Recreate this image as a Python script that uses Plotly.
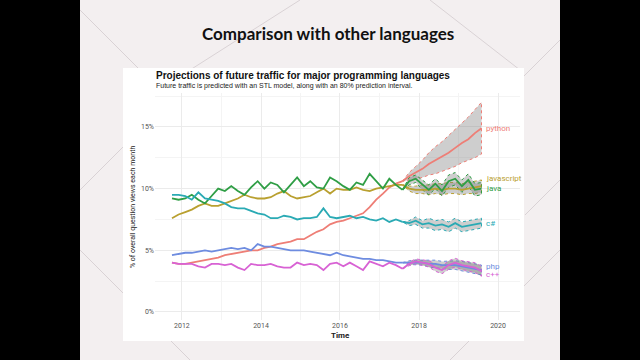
import plotly.graph_objects as go
import pandas as pd

# ---------------- data ----------------
obs_dates = pd.date_range("2011-10-01", periods=36, freq="2MS").strftime("%Y-%m-%d").tolist()
fc_dates = pd.date_range("2017-10-01", periods=12, freq="2MS").strftime("%Y-%m-%d").tolist()

languages = ["python", "javascript", "java", "c#", "php", "c++"]

python_obs = [4.0, 3.9, 3.9, 4.0, 4.1, 4.2, 4.3, 4.4, 4.6, 4.7, 4.8, 4.9,
              5.0, 5.0, 5.2, 5.3, 5.5, 5.6, 5.7, 5.9, 5.9, 6.2, 6.5, 6.7,
              7.1, 7.3, 7.4, 7.6, 7.8, 8.0, 8.5, 9.1, 9.6, 10.1, 10.4, 10.6]
javascript_obs = [7.6, 7.9, 8.1, 8.3, 8.6, 8.8, 8.6, 8.6, 8.8, 9.0, 9.2, 9.5,
                  9.3, 9.2, 9.2, 9.3, 9.6, 9.8, 9.4, 9.2, 9.3, 9.4, 9.7, 10.0,
                  9.6, 10.0, 9.9, 9.9, 10.1, 9.9, 9.8, 10.0, 10.1, 10.2, 10.3, 10.3]
java_obs = [9.2, 9.1, 9.2, 9.5, 9.1, 8.8, 9.4, 10.0, 9.8, 10.2, 9.8, 9.5,
            10.1, 10.6, 10.0, 10.5, 10.3, 9.7, 10.3, 10.9, 10.2, 10.6, 10.1, 10.0,
            10.9, 10.6, 10.2, 9.9, 10.5, 10.3, 11.2, 10.6, 10.0, 10.8, 10.3, 9.9]
csharp_obs = [9.5, 9.5, 9.4, 9.1, 9.7, 9.2, 9.1, 9.0, 8.8, 8.5, 8.4, 8.4,
              8.2, 8.0, 7.9, 7.6, 7.6, 7.8, 7.7, 7.5, 7.6, 7.6, 7.7, 8.4,
              7.7, 7.6, 7.7, 7.8, 7.6, 7.7, 7.5, 7.4, 7.6, 7.3, 7.5, 7.3]
php_obs = [4.6, 4.7, 4.8, 4.8, 4.9, 5.0, 4.9, 5.0, 5.1, 5.2, 5.1, 5.2,
           5.0, 5.5, 5.3, 5.3, 5.2, 5.1, 5.0, 5.0, 5.0, 4.9, 4.8, 4.7,
           4.6, 4.8, 4.6, 4.5, 4.4, 4.3, 4.3, 4.2, 4.2, 4.1, 4.0, 4.0]
cpp_obs = [4.0, 3.9, 3.9, 3.9, 3.7, 3.6, 3.9, 3.9, 3.8, 3.9, 3.6, 3.4,
           3.9, 3.8, 3.8, 3.9, 3.7, 3.6, 3.6, 4.0, 3.8, 3.9, 3.8, 3.4,
           3.9, 4.0, 3.7, 4.0, 3.7, 3.4, 4.1, 3.9, 3.7, 4.0, 3.8, 3.5]

python_fc = [11.0, 11.3, 11.6, 12.0, 12.3, 12.6, 12.9, 13.3, 13.7, 14.0, 14.5, 14.9]
python_lo = [10.7, 10.8, 10.9, 11.1, 11.2, 11.4, 11.6, 11.8, 12.1, 12.3, 12.5, 12.8]
python_hi = [11.3, 11.8, 12.3, 12.9, 13.4, 13.8, 14.3, 14.8, 15.3, 15.8, 16.4, 17.0]

javascript_fc = [10.0, 9.9, 9.9, 9.9, 10.0, 9.9, 10.0, 10.0, 9.9, 10.0, 10.1, 10.2]
javascript_lo = [9.8, 9.6, 9.6, 9.5, 9.6, 9.5, 9.6, 9.6, 9.5, 9.6, 9.6, 9.7]
javascript_hi = [10.2, 10.2, 10.3, 10.3, 10.4, 10.4, 10.5, 10.5, 10.4, 10.5, 10.6, 10.7]

java_fc = [10.6, 10.8, 10.3, 9.9, 10.4, 9.8, 10.6, 10.8, 10.2, 10.7, 9.9, 10.0]
java_lo = [10.3, 10.5, 9.9, 9.5, 10.0, 9.4, 10.1, 10.3, 9.7, 10.2, 9.4, 9.5]
java_hi = [10.9, 11.1, 10.7, 10.3, 10.8, 10.3, 11.1, 11.3, 10.7, 11.2, 10.4, 10.5]

csharp_fc = [7.2, 7.4, 7.1, 7.2, 7.0, 7.1, 6.9, 7.2, 6.9, 7.0, 7.1, 7.2]
csharp_lo = [7.0, 7.1, 6.8, 6.8, 6.6, 6.7, 6.5, 6.8, 6.5, 6.6, 6.7, 6.8]
csharp_hi = [7.4, 7.7, 7.4, 7.6, 7.4, 7.5, 7.3, 7.6, 7.3, 7.4, 7.5, 7.6]

php_fc = [4.0, 4.0, 4.0, 3.9, 3.9, 3.8, 3.8, 3.8, 3.7, 3.6, 3.5, 3.4]
php_lo = [3.85, 3.8, 3.8, 3.65, 3.6, 3.5, 3.45, 3.45, 3.3, 3.2, 3.1, 3.0]
php_hi = [4.15, 4.2, 4.2, 4.15, 4.2, 4.1, 4.15, 4.15, 4.1, 4.0, 3.9, 3.8]

cpp_fc = [3.9, 4.1, 4.0, 3.9, 3.6, 3.4, 3.8, 4.0, 3.8, 3.7, 3.6, 3.3]
cpp_lo = [3.75, 3.9, 3.75, 3.65, 3.3, 3.1, 3.45, 3.65, 3.45, 3.3, 3.2, 2.9]
cpp_hi = [4.05, 4.3, 4.25, 4.15, 3.9, 3.7, 4.15, 4.35, 4.15, 4.1, 4.0, 3.7]

y_ticks = [0, 5, 10, 15]
y_tick_labels = ["0%", "5%", "10%", "15%"]
x_ticks = ["2012-01-01", "2014-01-01", "2016-01-01", "2018-01-01", "2020-01-01"]
x_tick_labels = ["2012", "2014", "2016", "2018", "2020"]

# ---------------- style ----------------
colors = {"python": "#EE7E76", "javascript": "#B9A030", "java": "#2F9E45",
          "c#": "#2AAAB4", "php": "#6E8CE0", "c++": "#D862D4"}
label_shift = {"python": 0, "javascript": 8, "java": 0, "c#": 0, "php": 4, "c++": -3}

series = {
    "python": (python_obs, python_fc, python_lo, python_hi),
    "javascript": (javascript_obs, javascript_fc, javascript_lo, javascript_hi),
    "java": (java_obs, java_fc, java_lo, java_hi),
    "c#": (csharp_obs, csharp_fc, csharp_lo, csharp_hi),
    "php": (php_obs, php_fc, php_lo, php_hi),
    "c++": (cpp_obs, cpp_fc, cpp_lo, cpp_hi),
}

W, H = 640, 360
fig = go.Figure()

fc_x = [obs_dates[-1]] + fc_dates

# bands (closed polygon: upper forward, lower backward, dotted outline)
for lang in languages:
    obs, fc, lo, hi = series[lang]
    c = colors[lang]
    band_x = fc_x + fc_x[::-1] + [fc_x[0]]
    band_y = ([obs[-1]] + hi) + ([obs[-1]] + lo)[::-1] + [obs[-1]]
    fig.add_trace(go.Scatter(x=band_x, y=band_y, mode="lines",
                             line=dict(color=c, width=1, dash="dot"),
                             fill="toself", fillcolor="rgba(120,120,120,0.36)",
                             showlegend=False, hoverinfo="skip"))

# lines
for lang in languages:
    obs, fc, lo, hi = series[lang]
    c = colors[lang]
    fig.add_trace(go.Scatter(x=obs_dates, y=obs, mode="lines",
                             line=dict(color=c, width=1.8), name=lang, showlegend=False))
    fig.add_trace(go.Scatter(x=fc_x, y=[obs[-1]] + fc, mode="lines",
                             line=dict(color=c, width=1.8), showlegend=False))
    fig.add_annotation(x=fc_dates[-1], y=fc[-1], text=lang, showarrow=False,
                       xanchor="left", yanchor="middle", xshift=3,
                       yshift=label_shift[lang],
                       font=dict(family="Roboto", size=8, color=c))

# slide background & chart card
shapes = [
    dict(type="rect", xref="paper", yref="paper", x0=80 / W, x1=560 / W, y0=0, y1=1,
         fillcolor="#F3EFF0", line=dict(width=0), layer="below"),
]
diag = [((80, 10), (200, 130)), ((80, 250), (190, 360)), ((300, 0), (190, 70)),
        ((430, 0), (520, 70)), ((560, 40), (470, 130)), ((560, 250), (450, 360)),
        ((80, 190), (140, 130)), ((560, 180), (525, 215))]
for (xa, ya), (xb, yb) in diag:
    shapes.append(dict(type="line", xref="paper", yref="paper",
                       x0=xa / W, y0=1 - ya / H, x1=xb / W, y1=1 - yb / H,
                       line=dict(color="#D9D2D5", width=1), layer="below"))
shapes.append(dict(type="rect", xref="paper", yref="paper",
                   x0=123 / W, x1=524 / W, y0=1 - 341 / H, y1=1 - 68 / H,
                   fillcolor="#FFFFFF", line=dict(width=0), layer="below"))

annotations = [
    dict(x=328 / W, y=1 - 33 / H, xref="paper", yref="paper", showarrow=False,
         text="<b>Comparison with other languages</b>", xanchor="center", yanchor="middle",
         font=dict(family="Lato", size=17, color="#111111")),
    dict(x=154 / W, y=1 - 75 / H, xref="paper", yref="paper", showarrow=False,
         text="<b>Projections of future traffic for major programming languages</b>",
         xanchor="left", yanchor="middle",
         font=dict(family="Liberation Sans", size=10, color="#111111")),
    dict(x=154 / W, y=1 - 86 / H, xref="paper", yref="paper", showarrow=False,
         text="Future traffic is predicted with an STL model, along with an 80% prediction interval.",
         xanchor="left", yanchor="middle",
         font=dict(family="Liberation Sans", size=7, color="#222222")),
    dict(x=340 / W, y=1 - 335 / H, xref="paper", yref="paper", showarrow=False,
         text="<b>Time</b>", xanchor="center", yanchor="middle",
         font=dict(family="Roboto", size=8, color="#222222")),
    dict(x=133 / W, y=1 - 207 / H, xref="paper", yref="paper", showarrow=False,
         text="% of overall question views each month", textangle=-90,
         xanchor="center", yanchor="middle",
         font=dict(family="Roboto", size=7, color="#222222")),
]

fig.update_layout(
    width=W, height=H,
    margin=dict(l=0, r=0, t=0, b=0, pad=0),
    paper_bgcolor="#000000", plot_bgcolor="#FFFFFF",
    shapes=shapes, annotations=list(fig.layout.annotations) + annotations,
    xaxis=dict(domain=[155 / W, 520 / W], type="date",
               range=["2011-04-27", "2020-07-22"],
               tickvals=x_ticks, ticktext=x_tick_labels,
               tickfont=dict(family="Roboto", size=7, color="#555555"),
               showgrid=True, gridcolor="#EBEBEB", gridwidth=1,
               minor=dict(dtick="M12", tick0="2013-01-01", showgrid=True,
                          gridcolor="#F4F4F4", gridwidth=0.8),
               ticks="", showline=False, zeroline=False),
    yaxis=dict(domain=[1 - 320 / H, 1 - 93 / H], range=[-0.65, 17.75],
               tickvals=y_ticks, ticktext=y_tick_labels,
               tickfont=dict(family="Roboto", size=7, color="#555555"),
               showgrid=True, gridcolor="#EBEBEB", gridwidth=1,
               minor=dict(tickvals=[2.5, 7.5, 12.5, 17.5], showgrid=True,
                          gridcolor="#F4F4F4", gridwidth=0.8),
               ticks="", showline=False, zeroline=False),
)

fig.write_html("out.html", config={"displayModeBar": False},
               post_script="document.body.style.margin='0';document.body.style.background='#000';")
